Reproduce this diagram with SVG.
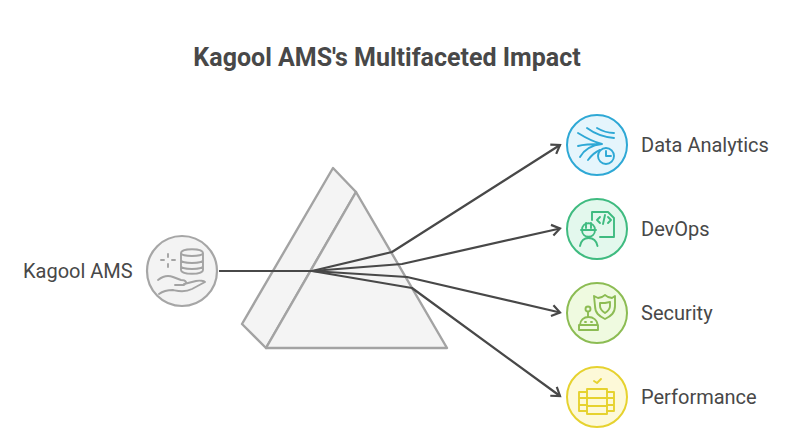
<svg xmlns="http://www.w3.org/2000/svg" width="793" height="438" viewBox="0 0 793 438">
<style>
text{font-family:"Roboto","Liberation Sans",sans-serif;fill:#484848;font-size:20px}
.title{font-size:25px;font-weight:700;text-anchor:middle}
.i{fill:none;stroke-width:1.9;stroke-linecap:round;stroke-linejoin:round}
.prism{fill:#f4f4f4;stroke:#a3a3a3;stroke-width:2.4;stroke-linejoin:round}
.ray{fill:none;stroke:#484848;stroke-width:2.2;stroke-linejoin:round;marker-end:url(#arrow)}
.c{stroke-width:2}
</style>
<defs>
<marker id="arrow" markerUnits="userSpaceOnUse" markerWidth="16" markerHeight="16" refX="11" refY="8" orient="auto"><path d="M3 2.500L11 8L3 13.500" fill="none" stroke="#484848" stroke-width="2.200"/></marker>
</defs>
<rect width="793" height="438" fill="#fff"/>
<text class="title" x="387" y="66">Kagool AMS's Multifaceted Impact</text>
<g id="prism">
<path class="prism" d="M333 168L356 192L266 348L242 324Z"/>
<path class="prism" d="M356 192L447 348H266Z"/>
</g>
<g id="connectors">
<path class="ray" d="M219 271H312L392 252L560 145"/>
<path class="ray" d="M312 271L402 264L560 228.500"/>
<path class="ray" d="M312 271L407 277L560 312.500"/>
<path class="ray" d="M312 271L412 288L560 396"/>
</g>
<g id="source">
<text x="23" y="278">Kagool AMS</text>
<circle cx="182" cy="271" r="35" fill="#f3f3f3" stroke="#a6a6a6" stroke-width="2.200"/>
<g class="i" stroke="#a3a3a3">
<path d="M181 253c0-5 22-5 22 0v17c0 5-22 5-22 0zM181 253c0 4 22 4 22 0M181 260c0 4 22 4 22 0M181 266c0 4 22 4 22 0"/>
<path d="M168 254v3M168 264v3M161 260h3M172 260h3"/>
<path d="M158 280c5-4 10-5 15-3l8 3c5 0 7 3 3 5h-9M184 284l12-3c4-1 8 0 9 1l-13 7c-8 4-14 2-19 1c-5 0-10 1-14 4"/>
</g>
</g>
<g id="analytics">
<circle class="c" cx="597" cy="145" r="30" fill="#e5f5fc" stroke="#2ea8d5"/>
<g class="i" stroke="#2ea8d5">
<path d="M587 128c8 6 16 9 27 10M597 128c5 3 11 5 17 5M578 133c8 5 16 9 24 11c-9 0-17 0-24 2M580 157c4-7 12-12 22-13M588 160c3-4 7-8 12-10"/>
<circle cx="606" cy="156" r="8"/><path d="M606 151v5h5"/>
</g>
</g>
<text x="641" y="152">Data Analytics</text>
<g id="devops">
<circle class="c" cx="597" cy="229" r="30" fill="#e3f8ed" stroke="#3fbb80"/>
<g class="i" stroke="#3fbb80">
<path d="M592 220v-8h16l6 6v19h-14"/>
<path d="M600 217l-3 3l3 3M608 217l3 3l-3 3M605 215l-2 9"/>
<path d="M581 230h15M582 230c0-9 13-9 13 0c0 9-13 9-13 0M586 223v5M591 223v5M580 246c1-5 4-8 8.500-8s8 3 9 8"/>
</g>
</g>
<text x="641" y="236">DevOps</text>
<g id="security">
<circle class="c" cx="597" cy="313" r="30" fill="#effae0" stroke="#8cbc53"/>
<g class="i" stroke="#8cbc53">
<path d="M594 296l4 2l4-1l3-2l3 2l4 1l3-2v10c0 7-4 10-10 13c-6-3-10-6-10-13z"/>
<path d="M600 303h5l5-1v4c0 3-2 5-5 7c-3-2-5-4-5-7z"/>
<circle cx="588" cy="309" r="2.500"/><path d="M588 312v5"/>
<path d="M580 325c0-5 4-8 8.500-8s9 3 9 8zM579 325h19v5h-19zM585 322h1M591 322h1"/>
</g>
</g>
<text x="641" y="320">Security</text>
<g id="performance">
<circle class="c" cx="597" cy="397" r="30" fill="#fdf9d8" stroke="#e6d22f"/>
<g class="i" stroke="#e6d22f">
<path d="M594 381l3 2l4-4"/>
<rect x="587" y="389" width="20" height="25"/><path d="M587 398h20M587 406h20"/>
<path d="M587 392h-8v19h8M579 398h8M579 405h8M607 392h7v19h-7M614 398h-7M614 405h-7"/>
</g>
</g>
<text x="641" y="404">Performance</text>
</svg>
